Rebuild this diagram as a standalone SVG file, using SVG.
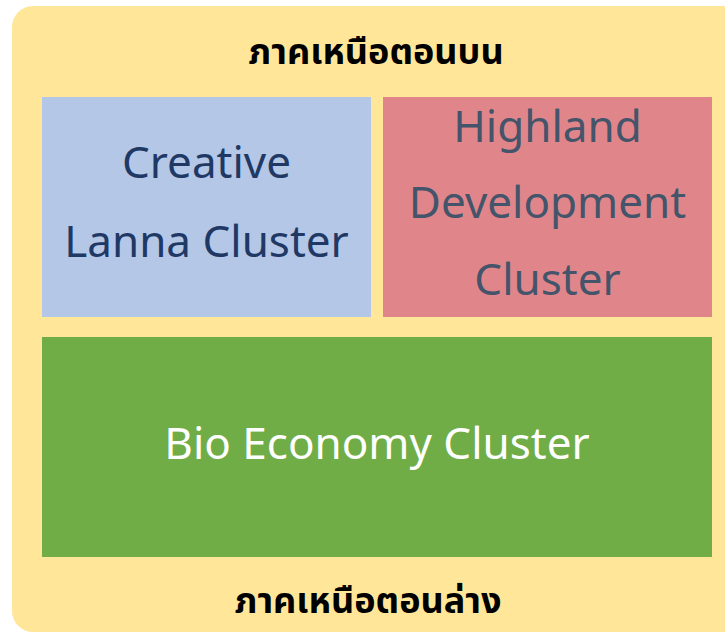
<svg xmlns="http://www.w3.org/2000/svg" width="725" height="633" viewBox="0 0 725 633">
<style>
.lbl{font-family:"Noto Sans","Open Sans","Liberation Sans",sans-serif;font-size:44px;text-anchor:middle}
.th{font-family:"Noto Sans Thai","Leelawadee UI",Tahoma,"Noto Sans","DejaVu Sans",sans-serif;font-size:36px;font-weight:bold;text-anchor:middle;fill:#000}
</style>
<g id="region">
<rect x="12" y="6" width="740" height="626" rx="21" fill="#FFE699"/>
<text class="th" x="376" y="64">ภาคเหนือตอนบน</text>
<text class="th" x="368" y="613">ภาคเหนือตอนล่าง</text>
</g>
<g id="creative">
<rect x="42" y="97" width="329" height="220" fill="#B4C7E7"/>
<text class="lbl" x="206.5" y="178" fill="#203864">Creative</text>
<text class="lbl" x="206.5" y="257" fill="#203864">Lanna Cluster</text>
</g>
<g id="highland">
<rect x="383" y="97" width="329" height="220" fill="#E0868B"/>
<text class="lbl" x="547.5" y="142" fill="#44546A">Highland</text>
<text class="lbl" x="547.5" y="218" fill="#44546A">Development</text>
<text class="lbl" x="547.5" y="295" fill="#44546A">Cluster</text>
</g>
<g id="bio">
<rect x="42" y="337" width="670" height="220" fill="#70AD47"/>
<text class="lbl" x="377" y="459" fill="#FFFFFF">Bio Economy Cluster</text>
</g>
<g id="connectors"/>
</svg>
